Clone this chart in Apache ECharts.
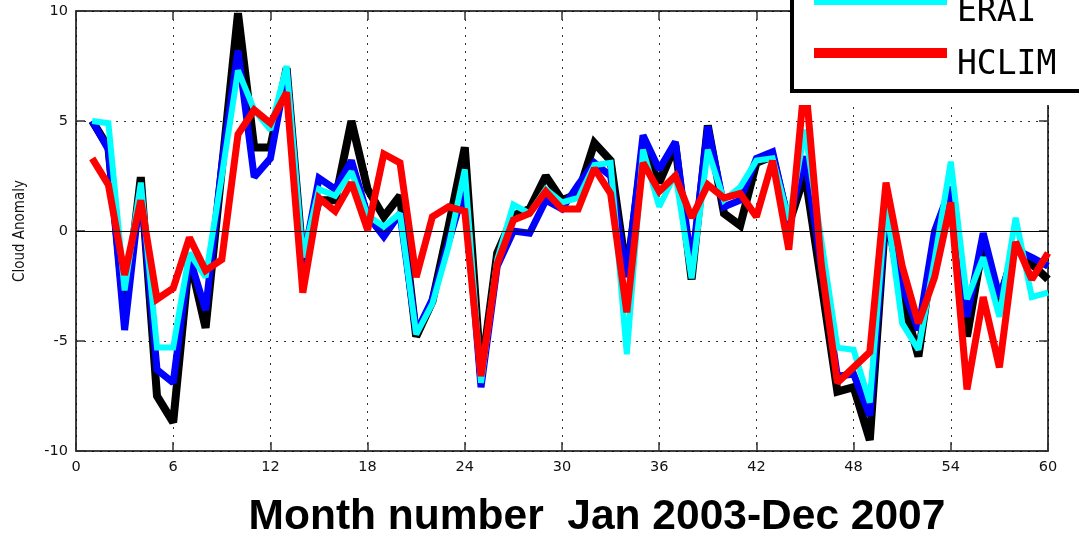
<!DOCTYPE html>
<html>
<head>
<meta charset="utf-8">
<style>
  html, body { margin: 0; padding: 0; background: #fff; }
  #chart { width: 1079px; height: 535px; }
</style>
<script src="https://cdn.jsdelivr.net/npm/echarts@6/dist/echarts.min.js"></script>
</head>
<body>
<div id="chart"></div>
<script>
// Monthly cloud anomaly, Jan 2003 - Dec 2007 (month 1..60)
const months = Array.from({ length: 60 }, (_, i) => i + 1);

const obsA = [5.0, 3.8, -3.8, 2.45, -7.5, -8.7, -1.2, -4.4, 2.8, 9.9,
  3.8, 3.8, 7.4, -1.3, 1.4, 1.4, 5.0, 1.9, 0.65, 1.6,
  -4.8, -3.2, 0.2, 3.8, -6.6, -1.0, 0.7, 1.0, 2.5, 1.4,
  1.7, 4.0, 3.2, -2.0, 3.8, 2.2, 3.9, -2.2, 4.8, 0.8,
  0.25, 3.1, 3.4, 0.3, 2.6, -2.3, -7.3, -7.1, -9.5, 1.0,
  -3.0, -5.7, -0.5, 1.8, -4.8, -0.5, -3.2, -0.7, -1.5, -2.2];

const obsB = [5.0, 3.7, -4.5, 2.0, -6.3, -6.9, -1.2, -3.6, 3.0, 8.2,
  2.45, 3.3, 7.3, -1.5, 2.4, 1.9, 3.2, 0.7, -0.25, 0.8,
  -4.6, -3.1, -0.5, 2.0, -7.1, -1.6, 0.0, -0.1, 1.4, 1.0,
  2.1, 3.1, 2.5, -2.1, 4.35, 2.8, 4.05, -1.6, 4.75, 1.1,
  1.4, 3.3, 3.6, 0.35, 3.4, -1.6, -6.6, -6.5, -8.4, 1.1,
  -2.5, -4.5, 0.0, 2.0, -3.9, -0.1, -3.0, -0.85, -1.2, -1.6];

const erai = [5.0, 4.9, -2.7, 2.2, -5.3, -5.3, -1.0, -2.1, 2.5, 7.3,
  5.5, 4.6, 7.5, -1.2, 1.9, 1.6, 2.7, 0.7, 0.2, 0.8,
  -4.7, -3.3, -0.7, 2.8, -6.9, -1.3, 1.2, 0.8, 1.9, 1.3,
  1.5, 3.0, 3.1, -5.6, 3.7, 1.1, 2.6, -2.15, 3.7, 1.4,
  2.0, 3.2, 3.3, 0.5, 4.6, -0.4, -5.3, -5.4, -7.8, 1.3,
  -4.2, -5.4, -1.3, 3.15, -3.1, -1.2, -3.9, 0.6, -3.0, -2.8];

const hclim = [3.3, 2.1, -2.0, 1.4, -3.1, -2.6, -0.3, -1.8, -1.3, 4.4,
  5.5, 4.9, 6.3, -2.8, 1.5, 0.9, 2.2, 0.05, 3.5, 3.1,
  -2.1, 0.65, 1.1, 0.9, -6.6, -1.5, 0.5, 0.8, 1.8, 1.0,
  1.0, 2.85, 1.7, -3.7, 3.1, 1.8, 2.5, 0.6, 2.1, 1.5,
  1.7, 0.65, 3.2, -0.85, 7.0, -1.5, -6.9, -6.2, -5.5, 2.2,
  -1.6, -4.2, -2.1, 1.3, -7.2, -3.0, -6.2, -0.5, -2.2, -1.0];

const xTicks = { min: 0, max: 60, interval: 6 };
const yTicks = { min: -10, max: 10, interval: 5 };

const pairs = vals => months.map((m, i) => [m, vals[i]]);

const tickFont = { fontFamily: 'DejaVu Sans', fontSize: 14.5, color: '#111' };
const dotted = { color: '#333', width: 1, type: [2, 6] };

const chart = echarts.init(document.getElementById('chart'), null, { renderer: 'canvas' });

function lineSeries(name, vals, color, width) {
  return {
    name: name,
    type: 'line',
    data: pairs(vals),
    showSymbol: false,
    symbol: 'none',
    lineStyle: { color: color, width: width, join: 'miter', miterLimit: 2 },
    itemStyle: { color: color },
    animation: false
  };
}

const seriesList = [
  lineSeries('Observed A', obsA, '#000000', 8),
  lineSeries('Observed B', obsB, '#0000ff', 7),
  lineSeries('ERAI', erai, '#00ffff', 6),
  lineSeries('HCLIM', hclim, '#ff0000', 7)
];

// zero reference line, drawn above the curves
seriesList[3].markLine = {
  silent: true,
  symbol: 'none',
  label: { show: false },
  lineStyle: { color: '#000', width: 1, type: 'solid' },
  data: [{ yAxis: 0 }],
  animation: false
};

// Key box in the upper right corner; the first two entries sit above the page edge.
const keyEntries = seriesList.slice(2);
const keyRowGap = 53;
const keyFirstRow = 0;
const keyGraphics = [
  {
    type: 'rect', z: 100, silent: true,
    shape: { x: 790, y: -10, width: 300, height: 115 },
    style: { fill: '#fff', stroke: null }
  },
  {
    type: 'rect', z: 101, silent: true,
    shape: { x: 792, y: -10, width: 300, height: 101 },
    style: { fill: null, stroke: '#000', lineWidth: 4 }
  }
];
keyEntries.forEach((s, i) => {
  const cy = keyFirstRow + i * keyRowGap;
  keyGraphics.push({
    type: 'rect', z: 102, silent: true,
    shape: { x: 814, y: cy - 5, width: 133, height: 10 },
    style: { fill: s.lineStyle.color }
  });
  keyGraphics.push({
    type: 'text', z: 102, silent: true,
    x: 957, y: cy + 12,
    style: {
      text: s.name,
      fill: '#000',
      font: '33px "DejaVu Sans Mono"',
      verticalAlign: 'middle',
      align: 'left'
    }
  });
});

function frameAxis(extra) {
  return Object.assign({
    type: 'value',
    axisLine: { show: true, onZero: false, lineStyle: { color: '#000', width: 1.5 } },
    axisTick: { show: true, inside: true, length: 9, lineStyle: { color: '#333', width: 1.5 } },
    axisLabel: { show: false },
    splitLine: { show: false }
  }, extra);
}

chart.setOption({
  animation: false,
  backgroundColor: '#fff',
  grid: { left: 76, right: 31, top: 11, bottom: 84, outerBoundsMode: 'none', containLabel: false },
  xAxis: [
    frameAxis({
      position: 'bottom',
      min: xTicks.min, max: xTicks.max, interval: xTicks.interval,
      axisLabel: Object.assign({ show: true, margin: 9 }, tickFont),
      splitLine: { show: true, lineStyle: dotted },
      name: 'Month number  Jan 2003-Dec 2007',
      nameLocation: 'middle',
      nameGap: 45,
      nameTextStyle: {
        fontFamily: 'Liberation Sans', fontWeight: 'bold', fontSize: 42.5, color: '#000',
        padding: [0, 0, 0, 70]
      }
    }),
    frameAxis({
      position: 'top',
      min: xTicks.min, max: xTicks.max, interval: xTicks.interval
    })
  ],
  yAxis: [
    frameAxis({
      position: 'left',
      min: yTicks.min, max: yTicks.max, interval: yTicks.interval,
      axisLabel: Object.assign({ show: true, margin: 8 }, tickFont),
      splitLine: { show: true, lineStyle: dotted },
      name: 'Cloud Anomaly',
      nameLocation: 'middle',
      nameGap: 48,
      nameRotate: 90,
      nameTextStyle: { fontFamily: 'DejaVu Sans Condensed, DejaVu Sans', fontSize: 15, color: '#111' }
    }),
    frameAxis({
      position: 'right',
      min: yTicks.min, max: yTicks.max, interval: yTicks.interval
    })
  ],
  graphic: keyGraphics,
  series: seriesList
});
</script>
</body>
</html>
